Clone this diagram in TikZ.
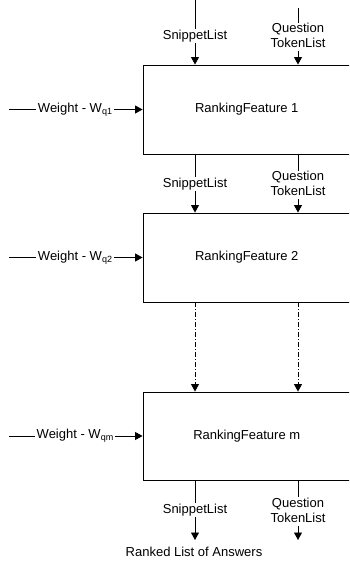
\documentclass[tikz,border=0pt]{standalone}
\usepackage{fontspec}
\setmainfont{Liberation Sans}
\usetikzlibrary{arrows.meta}
\newcommand{\wsub}[1]{W\raisebox{-0.25ex}{\fontsize{9}{9}\selectfont #1}}
\begin{document}
\begin{tikzpicture}[x=1pt,y=-1pt,
  every node/.style={font=\fontsize{13}{15}\selectfont, text=black},
  box/.style={draw, line width=0.9pt, minimum width=207.5pt, inner sep=0pt},
  lbl/.style={inner sep=0.5pt, align=center},
  ln/.style={line width=0.9pt},
  arr/.style={line width=0.9pt, -{Triangle[length=7.5pt,width=8pt]}},
  dd/.style={arr, dash pattern=on 5pt off 2pt on 1pt off 2pt}]
\useasboundingbox (0,0) rectangle (349,561);
\clip (0,0) rectangle (349,561);
% boxes
\node[box, minimum height=89pt] (b1) at (246.75,109.5) {RankingFeature 1};
\node[box, minimum height=89pt] (b2) at (246.75,257.5) {RankingFeature 2};
\node[box, minimum height=88pt] (b3) at (246.75,436) {RankingFeature m};
% top inputs
\coordinate (s0) at (195,0);
\coordinate (q0) at (298,8);
\node[lbl] (sl0) at (195,36) {SnippetList};
\node[lbl] (ql0) at (298,35.5) {Question\\TokenList};
\draw[ln] (s0) -- (sl0);
\draw[arr] (sl0) -- (b1.north -| sl0);
\draw[ln] (q0) -- (ql0);
\draw[arr] (ql0.south) ++(0,3) -- (b1.north -| ql0);
% between 1 and 2
\node[lbl] (sl1) at (195,184) {SnippetList};
\node[lbl] (ql1) at (298,183.5) {Question\\TokenList};
\draw[ln] (b1.south -| sl1) -- (sl1);
\draw[arr] (sl1) -- (b2.north -| sl1);
\draw[ln] (b1.south -| ql1) -- (ql1);
\draw[arr] (ql1.south) ++(0,3) -- (b2.north -| ql1);
% between 2 and m
\draw[dd] (b2.south -| sl1) -- (b3.north -| sl1);
\draw[dd] (b2.south -| ql1) -- (b3.north -| ql1);
% bottom outputs
\node[lbl] (sl3) at (195,510) {SnippetList};
\node[lbl] (ql3) at (298,510) {Question\\TokenList};
\coordinate (se) at (195,540);
\coordinate (qe) at (298,540);
\draw[ln] (b3.south -| sl3) -- (sl3);
\draw[arr] (sl3) -- (se);
\draw[ln] (b3.south -| ql3) -- (ql3);
\draw[arr] (ql3.south) ++(0,3) -- (qe);
\node[lbl] (res) at (194,552) {Ranked List of Answers};
% weights
\foreach \b/\s in {b1/q1, b2/q2, b3/qm}{
  \node[lbl, inner sep=2pt] (w\b) at (75,0 |- \b.west) {Weight - \wsub{\s}};
  \coordinate (ws\b) at (9,0 |- \b.west);
  \draw[ln] (ws\b) -- (w\b);
  \draw[arr] (w\b) -- (\b.west);
}
\end{tikzpicture}
\end{document}
